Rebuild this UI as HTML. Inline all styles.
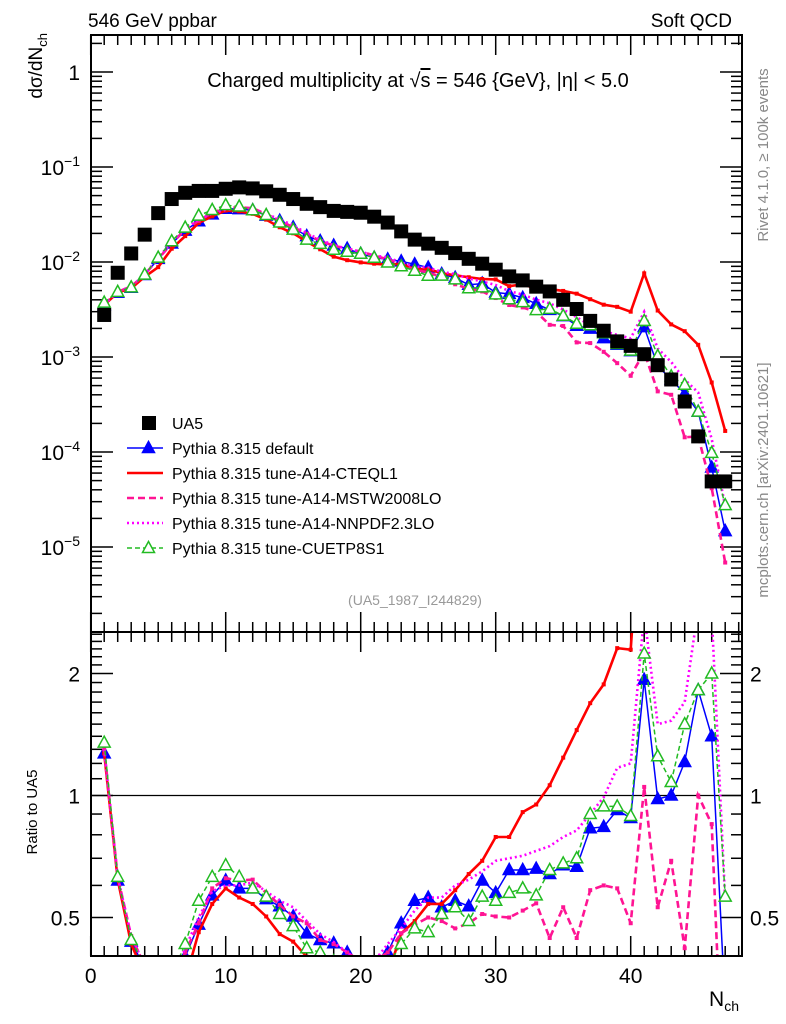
<!DOCTYPE html>
<html><head><meta charset="utf-8"><style>
html,body{margin:0;padding:0;background:#fff;width:786px;height:1024px;overflow:hidden;}
svg{display:block;font-family:"Liberation Sans",sans-serif;}
</style></head><body>
<svg id="chart" width="786" height="1024" viewBox="0 0 786 1024">
<defs>
<clipPath id="cm"><rect x="91" y="35" width="651" height="597"/></clipPath>
<clipPath id="cr"><rect x="91" y="632" width="651" height="324"/></clipPath>
</defs>
<text x="88" y="27" font-size="19">546 GeV ppbar</text>
<text x="732" y="27" font-size="19" text-anchor="end">Soft QCD</text>
<text x="418" y="87" font-size="20" text-anchor="middle">Charged multiplicity at √<tspan text-decoration="overline">s</tspan> = 546 {GeV}, |η| &lt; 5.0</text>
<text transform="translate(42,33) rotate(-90)" font-size="19" text-anchor="end">dσ/dN<tspan font-size="13" dy="5">ch</tspan></text>
<text transform="translate(37,812) rotate(-90)" font-size="15" text-anchor="middle">Ratio to UA5</text>
<text transform="translate(768,155) rotate(-90)" font-size="15" fill="#888" text-anchor="middle">Rivet 4.1.0, ≥ 100k events</text>
<text transform="translate(768,480) rotate(-90)" font-size="15" fill="#888" text-anchor="middle">mcplots.cern.ch [arXiv:2401.10621]</text>
<text x="415" y="605" font-size="14" fill="#999" text-anchor="middle">(UA5_1987_I244829)</text>
<text x="724" y="1006" font-size="21" text-anchor="middle">N<tspan font-size="14" dy="5">ch</tspan></text>
<g id="axes"></g>
<g id="mainMarks" clip-path="url(#cm)"></g>
<g id="ratioMarks" clip-path="url(#cr)"></g>
<g id="legend"></g>
<rect x="91" y="35" width="651" height="597" fill="none" stroke="#000" stroke-width="2"/>
<rect x="91" y="632" width="651" height="324" fill="none" stroke="#000" stroke-width="2"/>
</svg>
<script>
const nch = [];
for (let i = 1; i <= 47; i++) nch.push(i);
const ua5 = [2.77e-3,7.7e-3,1.23e-2,1.94e-2,3.27e-2,4.6e-2,5.35e-2,5.6e-2,5.6e-2,5.9e-2,
6.1e-2,5.95e-2,5.55e-2,5.1e-2,4.6e-2,4.1e-2,3.78e-2,3.45e-2,3.37e-2,3.3e-2,
3.0e-2,2.6e-2,2.1e-2,1.72e-2,1.56e-2,1.41e-2,1.24e-2,1.08e-2,9.6e-3,8.3e-3,
7.05e-3,6.4e-3,5.5e-3,4.9e-3,4.0e-3,3.2e-3,2.4e-3,1.89e-3,1.46e-3,1.31e-3,
1.07e-3,8.2e-4,5.8e-4,3.4e-4,1.46e-4,4.9e-5,4.9e-5];
const ratioDefault = [1.27,0.617,0.436,0.376,0.33,0.34,0.40,0.48,0.567,0.617,
0.59,0.59,0.555,0.533,0.503,0.457,0.44,0.432,0.41,0.37,
0.37,0.41,0.484,0.55,0.56,0.53,0.55,0.533,0.617,0.575,
0.655,0.655,0.66,0.64,0.673,0.667,0.83,0.837,0.921,0.88,
1.93,0.98,1.0,1.21,1.82,1.4,0.3];
const ratioCteq = [1.27,0.62,0.43,0.36,0.27,0.30,0.35,0.46,0.54,0.59,
0.56,0.54,0.503,0.455,0.436,0.40,0.36,0.33,0.31,0.30,
0.32,0.36,0.457,0.49,0.54,0.54,0.584,0.64,0.69,0.79,
0.79,0.91,0.95,1.06,1.24,1.45,1.69,1.88,2.31,2.29,
7.1,3.76,3.8,5.5,9.2,11,3.4];
const ratioMstw = [1.3,0.63,0.45,0.38,0.33,0.34,0.41,0.484,0.59,0.625,
0.617,0.62,0.575,0.537,0.503,0.484,0.44,0.43,0.41,0.39,
0.39,0.41,0.457,0.48,0.5,0.49,0.47,0.484,0.51,0.503,
0.5,0.52,0.542,0.445,0.53,0.445,0.584,0.6,0.59,0.484,
1.05,0.53,0.69,0.42,1.0,0.85,0.14];
const ratioNnpdf = [1.3,0.63,0.45,0.38,0.34,0.35,0.42,0.5,0.58,0.6,
0.6,0.61,0.58,0.55,0.53,0.49,0.455,0.435,0.41,0.39,
0.39,0.43,0.47,0.52,0.56,0.56,0.6,0.62,0.65,0.69,
0.70,0.71,0.73,0.75,0.79,0.82,0.9,0.99,1.17,1.2,
2.8,1.5,1.53,1.7,2.9,2.8,0.55];
const ratioCuet = [1.35,0.63,0.44,0.38,0.34,0.36,0.43,0.55,0.63,0.673,
0.63,0.59,0.563,0.51,0.476,0.42,0.41,0.39,0.38,0.37,
0.37,0.38,0.43,0.47,0.46,0.51,0.53,0.49,0.563,0.55,
0.575,0.59,0.567,0.655,0.68,0.7,0.9,0.94,0.94,0.89,
2.24,1.25,1.08,1.5,1.82,2.0,0.563];
const xTicks = [0,10,20,30,40];
const mainDecades = [0,-1,-2,-3,-4,-5];
const ratioTicks = [0.5,1,2];
const legendLabels = ["UA5","Pythia 8.315 default","Pythia 8.315 tune-A14-CTEQL1","Pythia 8.315 tune-A14-MSTW2008LO","Pythia 8.315 tune-A14-NNPDF2.3LO","Pythia 8.315 tune-CUETP8S1"];

const NS = "http://www.w3.org/2000/svg";
const X = n => 90.7 + 13.5 * n;
const Ym = v => 72 - 95 * Math.log10(v);
const Yr = r => 795.5 - 122 * Math.log2(r);
function el(tag, attrs, parent) {
  const e = document.createElementNS(NS, tag);
  for (const k in attrs) e.setAttribute(k, attrs[k]);
  parent.appendChild(e);
  return e;
}
const axes = document.getElementById('axes');
for (let n = 0; n <= 48; n++) {
  const major = n % 10 === 0;
  const L = major ? 20 : 10;
  for (const [y0, dir] of [[956, -1], [632, -1], [632, 1], [35, 1]]) {
    const t = el('line', {x1: X(n), x2: X(n), y1: y0, y2: y0 + dir * L, stroke: '#000', 'stroke-width': 1.5}, axes);
    
    
  }
}
xTicks.forEach(v => {
  const t = el('text', {x: X(v), y: 983, 'font-size': 21, 'text-anchor': 'middle'}, axes);
  t.textContent = v;
  
  
});
for (let d = 0; d >= -6; d--) {
  for (let m = 1; m <= 9; m++) {
    const v = m * Math.pow(10, d);
    const y = Ym(v);
    if (y < 35 || y > 632) continue;
    const L = m === 1 ? 22 : 11;
    for (const [x0, dir] of [[91, 1], [742, -1]]) {
      const t = el('line', {x1: x0, x2: x0 + dir * L, y1: y, y2: y, stroke: '#000', 'stroke-width': 1.5}, axes);
      
      
    }
  }
}
mainDecades.forEach(d => {
  const t = el('text', {x: 80, y: Ym(Math.pow(10, d)) + 8, 'font-size': 21, 'text-anchor': 'end'}, axes);
  if (d === 0) t.textContent = '1';
  else { t.textContent = '10'; const s = el('tspan', {dy: -9, 'font-size': 14}, t); s.textContent = '−' + (-d); }
  
  
});
for (let k = 4; k <= 25; k++) {
  const r = k / 10;
  const y = Yr(r);
  if (y < 632 || y > 956) continue;
  const major = ratioTicks.includes(r);
  const L = major ? 22 : 11;
  for (const [x0, dir] of [[91, 1], [742, -1]]) {
    const t = el('line', {x1: x0, x2: x0 + dir * L, y1: y, y2: y, stroke: '#000', 'stroke-width': 1.5}, axes);
    
    
  }
}
ratioTicks.forEach(r => {
  for (const [x, a] of [[80, 'end'], [750, 'start']]) {
    const t = el('text', {x: x, y: Yr(r) + 8, 'font-size': 21, 'text-anchor': a}, axes);
    t.textContent = r;
    
    
  }
});
const unity = el('line', {x1: 91, x2: 742, y1: Yr(1), y2: Yr(1), stroke: '#000', 'stroke-width': 1.2}, axes);



const series = [
  {name: 'pythia-default', r: ratioDefault, color: '#0000ff', w: 1.5, dash: '', mk: 'tri'},
  {name: 'pythia-cteql1', r: ratioCteq, color: '#ff0000', w: 2.6, dash: '', mk: 'dot'},
  {name: 'pythia-mstw2008lo', r: ratioMstw, color: '#ff1493', w: 2.6, dash: '7,4', mk: 'dot'},
  {name: 'pythia-nnpdf23lo', r: ratioNnpdf, color: '#ff00ff', w: 2.6, dash: '2,3', mk: 'none'},
  {name: 'pythia-cuetp8s1', r: ratioCuet, color: '#22bb22', w: 1.5, dash: '5,3', mk: 'otri'}
];
function marker(g, kind, x, y, color, nm) {
  let m = null;
  if (kind === 'tri' || kind === 'otri') {
    m = el('polygon', {points: `${x},${y-6.5} ${x-6},${y+4.5} ${x+6},${y+4.5}`, fill: kind === 'tri' ? color : '#fff', stroke: color, 'stroke-width': 1.5}, g);
  } else if (kind === 'dot') {
    m = el('rect', {x: x - 2, y: y - 2, width: 4, height: 4, fill: color}, g);
  }
  if (m) {
    
    
  }
}
const mainG = document.getElementById('mainMarks');
const ratioG = document.getElementById('ratioMarks');
series.forEach(s => {
  const mainPts = nch.map((n, i) => `${X(n)},${Ym(s.r[i] * ua5[i])}`).join(' ');
  const ratioPts = nch.map((n, i) => `${X(n)},${Yr(s.r[i])}`).join(' ');
  const lm = el('polyline', {points: mainPts, fill: 'none', stroke: s.color, 'stroke-width': s.w, 'stroke-dasharray': s.dash}, mainG);
  
  
  const lr = el('polyline', {points: ratioPts, fill: 'none', stroke: s.color, 'stroke-width': s.w, 'stroke-dasharray': s.dash}, ratioG);
  
  
  nch.forEach((n, i) => {
    marker(mainG, s.mk, X(n), Ym(s.r[i] * ua5[i]), s.color, s.name + '-point');
    marker(ratioG, s.mk, X(n), Yr(s.r[i]), s.color, s.name + '-ratio-point');
  });
});
nch.forEach((n, i) => {
  const sq = el('rect', {x: X(n) - 7, y: Ym(ua5[i]) - 7, width: 14, height: 14, fill: '#000'}, mainG);
  
  
});
const lg = document.getElementById('legend');
const legendStyle = [
  {mk: 'sq', color: '#000', w: 0, dash: ''},
  {mk: 'tri', color: '#0000ff', w: 1.5, dash: ''},
  {mk: 'none', color: '#ff0000', w: 2.6, dash: ''},
  {mk: 'none', color: '#ff1493', w: 2.6, dash: '7,4'},
  {mk: 'none', color: '#ff00ff', w: 2.6, dash: '2,3'},
  {mk: 'otri', color: '#22bb22', w: 1.5, dash: '5,3'}
];
legendLabels.forEach((lab, i) => {
  const y = 423 + 25 * i;
  const g = el('g', {}, lg);
  
  
  const st = legendStyle[i];
  if (st.mk === 'sq') {
    el('rect', {x: 142, y: y - 7, width: 14, height: 14, fill: '#000'}, g);
  } else {
    el('line', {x1: 127, x2: 163, y1: y, y2: y, stroke: st.color, 'stroke-width': st.w, 'stroke-dasharray': st.dash}, g);
    if (st.mk !== 'none') marker(g, st.mk, 148.5, y, st.color, 'legend-marker');
  }
  const t = el('text', {x: 172, y: y + 6, 'font-size': 16}, g);
  t.textContent = lab;
});
</script>
</body></html>
